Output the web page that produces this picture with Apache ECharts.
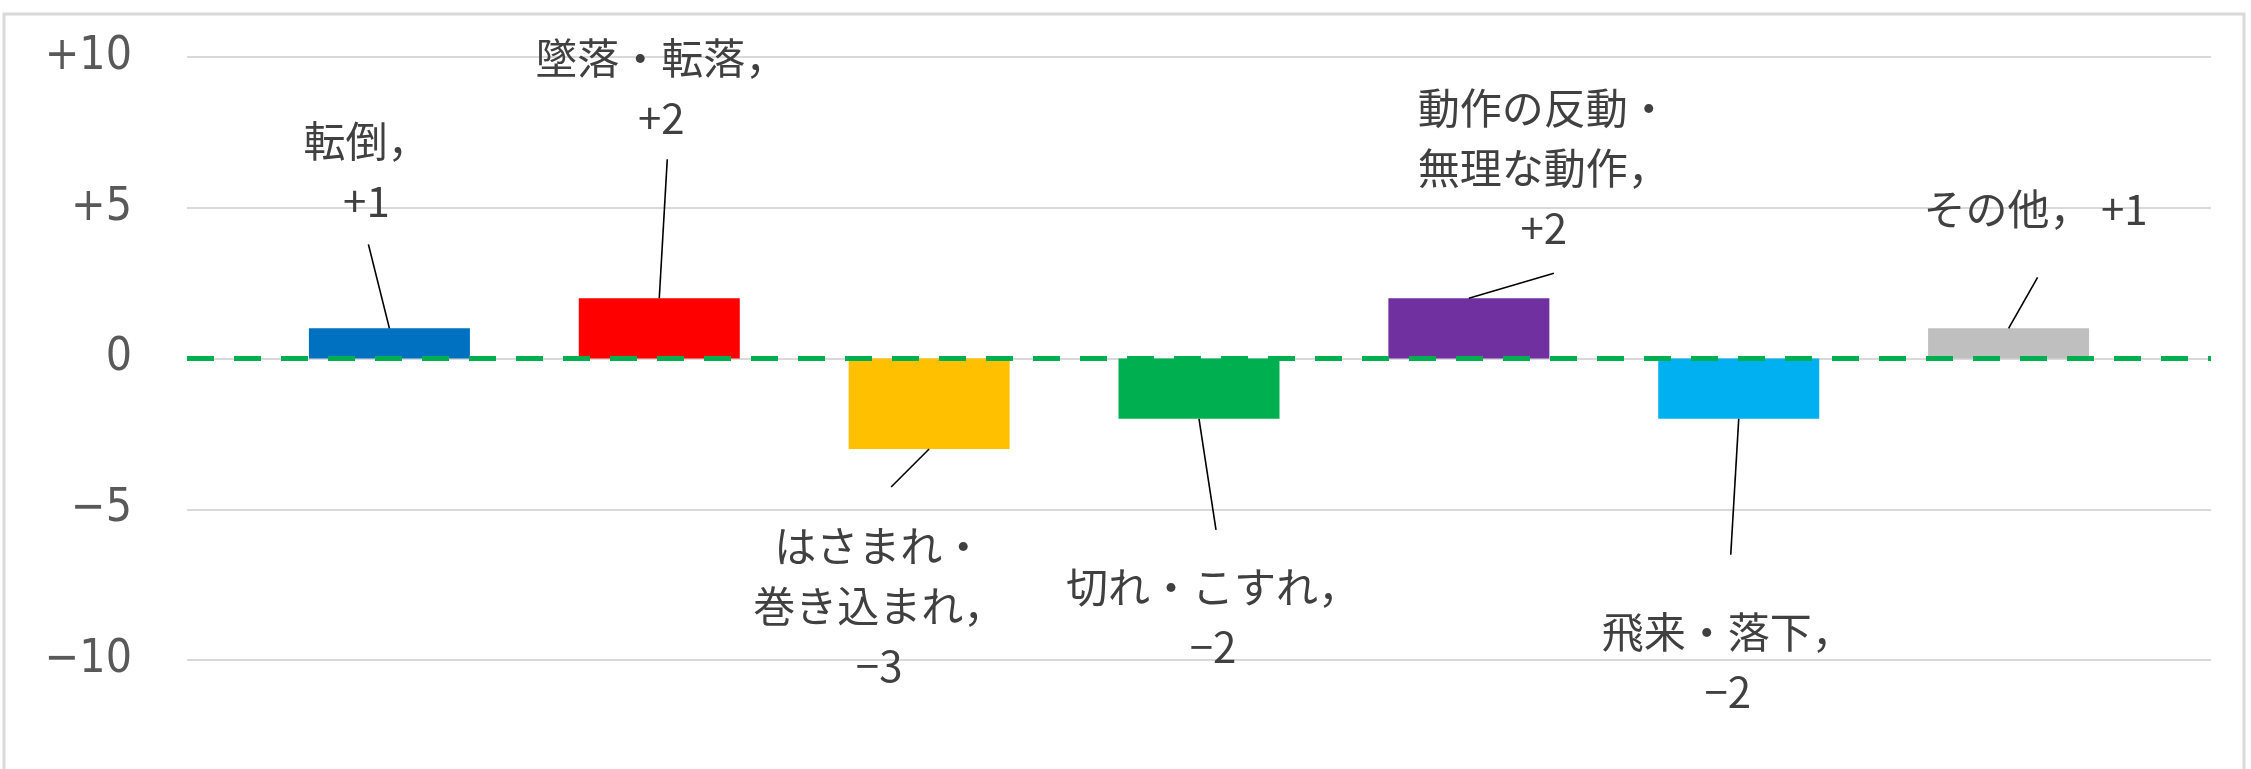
<!DOCTYPE html>
<html><head><meta charset="utf-8">
<script src="https://cdn.jsdelivr.net/npm/echarts/dist/echarts.min.js"></script>
<style>html,body{margin:0;padding:0;background:#fff}#c{width:2251px;height:769px}</style>
</head><body><div id="c"></div>
<script>
const categories = ['転倒', '墜落・転落', 'はさまれ・\n巻き込まれ', '切れ・こすれ', '動作の反動・\n無理な動作', '飛来・落下', 'その他'];
const values = [1, 2, -3, -2, 2, -2, 1];
const colors = ['#0070C0', '#FF0000', '#FFC000', '#00B050', '#7030A0', '#00B0F0', '#BFBFBF'];
const yTicks = [-10, -5, 0, 5, 10];
const yTickLabels = ['−10', '−5', '0', '+5', '+10'];
const labelSeparators = ['\n', '\n', '\n', '\n', '\n', '\n', ' '];
const referenceLine = [0];
// label centre offsets (px) from the bar's value end (layout only)
const labelOffsets = [[-23, -157], [2, -210], [-50, 157], [14, 198], [75, -130], [-11, 243], [27, -119]];
// leader line end offsets (px) from the bar's value end (layout only)
const leaderEnds = [[-21, -84], [8, -139], [-38, 38], [17, 111], [85, -25], [-8, 136], [29, -51]];

const fmtVal = v => v > 0 ? '+' + v : (v < 0 ? '−' + (-v) : '0');
const numFont = "'Liberation Sans Narrow','DejaVu Sans Condensed','Liberation Sans',sans-serif";
const lblFont = "'Liberation Sans Narrow','Noto Sans CJK JP',sans-serif";

const chart = echarts.init(document.getElementById('c'), null, {renderer: 'canvas'});
chart.setOption({
  animation: false,
  backgroundColor: '#fff',
  graphic: [{
    type: 'rect', silent: true, z: -10,
    shape: {x: 4, y: 14, width: 2240, height: 800},
    style: {fill: 'none', stroke: '#D9D9D9', lineWidth: 3}
  }],
  grid: {left: 187, right: 40, top: 57, bottom: 109},
  xAxis: {type: 'value', min: 0.25, max: 7.75, show: false},
  yAxis: {
    type: 'value', min: -10, max: 10, interval: 5,
    axisLine: {show: false}, axisTick: {show: false},
    splitLine: {lineStyle: {color: '#D9D9D9', width: 2}},
    axisLabel: {
      formatter: v => yTickLabels[yTicks.indexOf(v)],
      fontSize: 46, color: '#595959', fontFamily: numFont, margin: 55
    }
  },
  series: [{
    type: 'bar',
    barWidth: 161,
    data: values.map((v, i) => ({value: [i + 1, v], itemStyle: {color: colors[i]}})),
    label: {
      show: true,
      position: 'inside',
      formatter: p => categories[p.dataIndex] + '，' + labelSeparators[p.dataIndex] + fmtVal(values[p.dataIndex]),
      fontSize: 42, lineHeight: 60, color: '#404040', fontFamily: lblFont,
      align: 'center', verticalAlign: 'middle'
    },
    labelLayout: p => {
      const i = p.dataIndex;
      const r = p.rect;
      const cx = r.x + r.width / 2;
      const ay = values[i] >= 0 ? r.y : r.y + r.height;
      return {x: cx + labelOffsets[i][0], y: ay + labelOffsets[i][1], align: 'center', verticalAlign: 'middle'};
    },
    markLine: {
      silent: true, symbol: 'none', z: 10,
      label: {show: false},
      lineStyle: {color: '#00B050', width: 5, type: [27, 20]},
      data: referenceLine.map(v => ({yAxis: v}))
    }
  }, {
    type: 'custom',
    silent: true,
    z: 4,
    data: values.map((v, i) => [i + 1, v]),
    renderItem: (params, api) => {
      const i = params.dataIndex;
      const p = api.coord([api.value(0), api.value(1)]);
      return {
        type: 'line',
        shape: {x1: p[0], y1: p[1], x2: p[0] + leaderEnds[i][0], y2: p[1] + leaderEnds[i][1]},
        style: {stroke: '#000', lineWidth: 1.6}
      };
    }
  }]
});
</script></body></html>
